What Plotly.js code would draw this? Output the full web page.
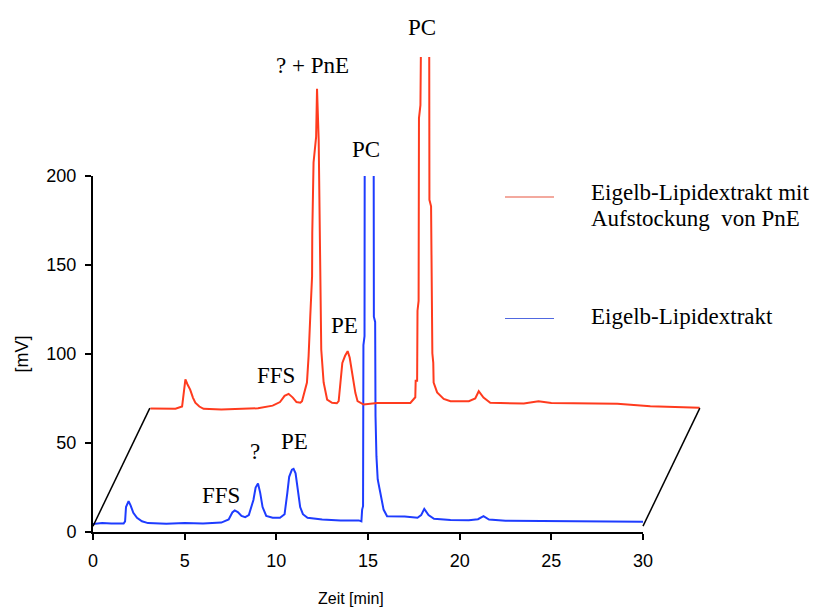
<!DOCTYPE html>
<html>
<head>
<meta charset="utf-8">
<script src="https://cdn.plot.ly/plotly-3.0.1.min.js"></script>
<style>html,body{margin:0;padding:0;background:#fff;}#chart{width:820px;height:607px;}</style>
</head>
<body>
<div id="chart"></div>
<script>
// ---- Data ----
// Eigelb-Lipidextrakt (blue): retention time [min], signal [mV]
const timeBlue = [0,0.5,1.0,1.67,1.75,1.8,1.94,2.05,2.2,2.4,2.67,3.0,4.0,5.0,6.0,7.0,7.4,7.6,7.73,7.9,8.1,8.3,8.5,8.75,8.87,9.0,9.12,9.25,9.45,9.8,10.2,10.45,10.6,10.7,10.85,10.94,11.05,11.15,11.3,11.45,11.7,12.5,13.5,14.5,14.64,14.68,14.73,14.75,14.81,14.83,15.07,15.3,15.32,15.39,15.41,15.46,15.53,15.67,15.85,16.04,16.5,17.0,17.7,17.9,18.07,18.3,18.6,19.5,20.5,21.0,21.3,21.6,22.5,24,26,28,30];
const mvBlue   = [4.5,5.0,4.8,4.8,6.0,14.0,17.3,15.0,10.8,8.0,6.0,5.0,4.6,5.0,4.8,5.3,7.0,11.0,12.1,11.2,9.0,8.3,9.5,18.0,25.0,27.2,22.0,14.0,9.0,8.0,8.0,10.0,22.0,31.0,35.0,35.5,33.0,25.0,14.0,10.0,8.0,7.0,6.5,6.5,6.0,12.6,14.5,105,110,300,520,300,121,118,65,42.6,29.5,22.2,12.6,8.9,8.8,8.7,8.0,9.5,13.0,9.5,7.4,6.8,6.6,7.2,8.9,7.0,6.3,6.2,6.0,5.9,5.8];

// Eigelb-Lipidextrakt mit Aufstockung von PnE (red): retention time [min], signal [mV]
const timeRed = [0.03,1.4,1.76,1.85,1.94,2.05,2.2,2.35,2.48,2.7,2.93,3.9,5.9,6.7,7.1,7.35,7.57,7.8,8.0,8.21,8.30,8.57,8.66,8.75,8.85,8.86,8.93,9.07,9.12,9.21,9.26,9.35,9.48,9.67,9.94,10.2,10.3,10.4,10.5,10.65,10.79,10.9,11.03,11.21,11.33,11.66,12.4,14.21,14.48,14.5,14.58,14.6,14.66,14.68,14.76,14.8,15.0,15.22,15.25,15.34,15.36,15.39,15.41,15.46,15.48,15.67,16.03,16.4,17.4,17.75,17.94,18.2,18.57,20.4,21.2,21.9,25.5,27.3,29.99];
const mvRed   = [3.1,3.0,4.2,13.7,19.4,16.7,13.7,9.2,6.3,4.2,2.9,2.5,3.2,4.7,6.7,10.2,11.3,9.2,6.7,6.3,7.2,17.7,32.5,54.7,77.4,101.7,141.3,155.7,182.7,154.2,98.0,36.2,17.7,8.1,6.3,6.0,7.2,17.7,28.7,32.7,35.3,31.7,23.1,11.9,7.2,5.3,6.2,6.2,9.4,18.7,18.7,58.0,63.5,166.2,173.5,353.7,453.7,353.7,120.3,116.7,69.0,63.5,34.1,28.7,17.7,12.1,8.5,7.2,7.2,8.7,12.8,9.2,6.3,5.9,7.2,6.2,5.7,4.4,3.5];

const seriesNames = ["Eigelb-Lipidextrakt mit<br>Aufstockung  von PnE", "Eigelb-Lipidextrakt"];
const xTicks = [0, 5, 10, 15, 20, 25, 30];
const yTicks = [0, 50, 100, 150, 200];

// ---- Presentation (pseudo-3D stacking) ----
const SHIFT_T = 3.1, SHIFT_MV = 66.3, FLOOR_MV = 3.3;
const RED = "#ff3b1e", BLUE = "#1e3cff";
const W = 820, H = 607, M = {l: 93, r: 100, t: 57, b: 75};
const PW = W - M.l - M.r, PH = H - M.t - M.b;
const PX_PER_MIN = 550 / 30, PX_PER_MV = 356 / 200;
const gx = (30 * PX_PER_MIN) / PW, gy = (200 * PX_PER_MV) / PH;
const x2max = PW / PX_PER_MIN, y2max = PH / PX_PER_MV;
const px = v => (v - M.l) / PW, py = v => (H - M.b - v) / PH;

const redX = timeRed.map(t => t + SHIFT_T);
const redY = mvRed.map(v => v + SHIFT_MV);

const traces = [
  {x: timeBlue, y: mvBlue, xaxis: 'x', yaxis: 'y', type: 'scatter', mode: 'lines',
   name: seriesNames[1], line: {color: BLUE, width: 2}, showlegend: false},
  {x: redX, y: redY, xaxis: 'x2', yaxis: 'y2', type: 'scatter', mode: 'lines',
   name: seriesNames[0], line: {color: RED, width: 2}, showlegend: false}
];

const serif = "'Liberation Serif', 'Times New Roman', serif";
const sans = "'Liberation Sans', Arial, sans-serif";
const lab = (text, x, y, size) => ({text, xref: 'paper', yref: 'paper', x: px(x), y: py(y),
  xanchor: 'center', yanchor: 'middle', showarrow: false, font: {family: serif, size: size || 23, color: '#000'}});

const annotations = [
  lab('PC', 422, 28),
  lab('? + PnE', 312, 66),
  lab('PC', 366, 149),
  lab('PE', 344, 325),
  lab('FFS', 276, 375),
  lab('?', 255, 451),
  lab('PE', 294, 441),
  lab('FFS', 221, 495),
  {text: 'Eigelb-Lipidextrakt mit', xref: 'paper', yref: 'paper', x: px(589), y: py(192), xanchor: 'left', yanchor: 'middle', showarrow: false, font: {family: serif, size: 23, color: '#000'}},
  {text: 'Aufstockung\u00a0 von PnE', xref: 'paper', yref: 'paper', x: px(589), y: py(218), xanchor: 'left', yanchor: 'middle', showarrow: false, font: {family: serif, size: 23, color: '#000'}},
  {text: seriesNames[1], xref: 'paper', yref: 'paper', x: px(589), y: py(317), xanchor: 'left', yanchor: 'middle', showarrow: false, font: {family: serif, size: 23, color: '#000'}},
  {text: 'Zeit [min]', xref: 'paper', yref: 'paper', x: px(351), y: py(598), xanchor: 'center', yanchor: 'middle', showarrow: false, font: {family: sans, size: 16, color: '#000'}}
];

const shapes = [
  {type: 'line', xref: 'x2', yref: 'y2', x0: 0, y0: FLOOR_MV, x1: SHIFT_T, y1: FLOOR_MV + SHIFT_MV, line: {color: '#000', width: 1.5}},
  {type: 'line', xref: 'x2', yref: 'y2', x0: 30, y0: FLOOR_MV, x1: 30 + SHIFT_T, y1: FLOOR_MV + SHIFT_MV, line: {color: '#000', width: 1.5}},
  {type: 'line', xref: 'paper', yref: 'paper', x0: px(505), y0: py(197), x1: px(554), y1: py(197), line: {color: '#e8553f', width: 1.2}},
  {type: 'line', xref: 'paper', yref: 'paper', x0: px(505), y0: py(318.5), x1: px(554), y1: py(318.5), line: {color: '#5068e0', width: 1.2}}
];

const layout = {
  width: W, height: H, margin: M,
  paper_bgcolor: '#fff', plot_bgcolor: 'rgba(0,0,0,0)',
  showlegend: false,
  font: {family: sans, size: 18, color: '#000'},
  xaxis: {domain: [0, gx], range: [0, 30], anchor: 'y', tickvals: xTicks, ticktext: xTicks.map(String),
          showline: true, linecolor: '#000', linewidth: 2, ticks: 'outside', ticklen: 6, tickwidth: 2, tickcolor: '#000',
          showgrid: false, zeroline: false, tickfont: {family: sans, size: 18, color: '#000'}, ticklabelstandoff: 5},
  yaxis: {domain: [0, gy], range: [0, 200], anchor: 'x', tickvals: yTicks, ticktext: yTicks.map(String),
          showline: true, linecolor: '#000', linewidth: 2, ticks: 'outside', ticklen: 6, tickwidth: 2, tickcolor: '#000',
          showgrid: false, zeroline: false, tickfont: {family: sans, size: 18, color: '#000'}, ticklabelstandoff: 5,
          title: {text: '[mV]', font: {family: sans, size: 18, color: '#000'}, standoff: 13}},
  xaxis2: {domain: [0, 1], range: [0, x2max], anchor: 'y2', visible: false, showgrid: false, zeroline: false},
  yaxis2: {domain: [0, 1], range: [0, y2max], anchor: 'x2', visible: false, showgrid: false, zeroline: false},
  annotations, shapes
};

Plotly.newPlot('chart', traces, layout, {displayModeBar: false, staticPlot: true});
</script>
</body>
</html>
